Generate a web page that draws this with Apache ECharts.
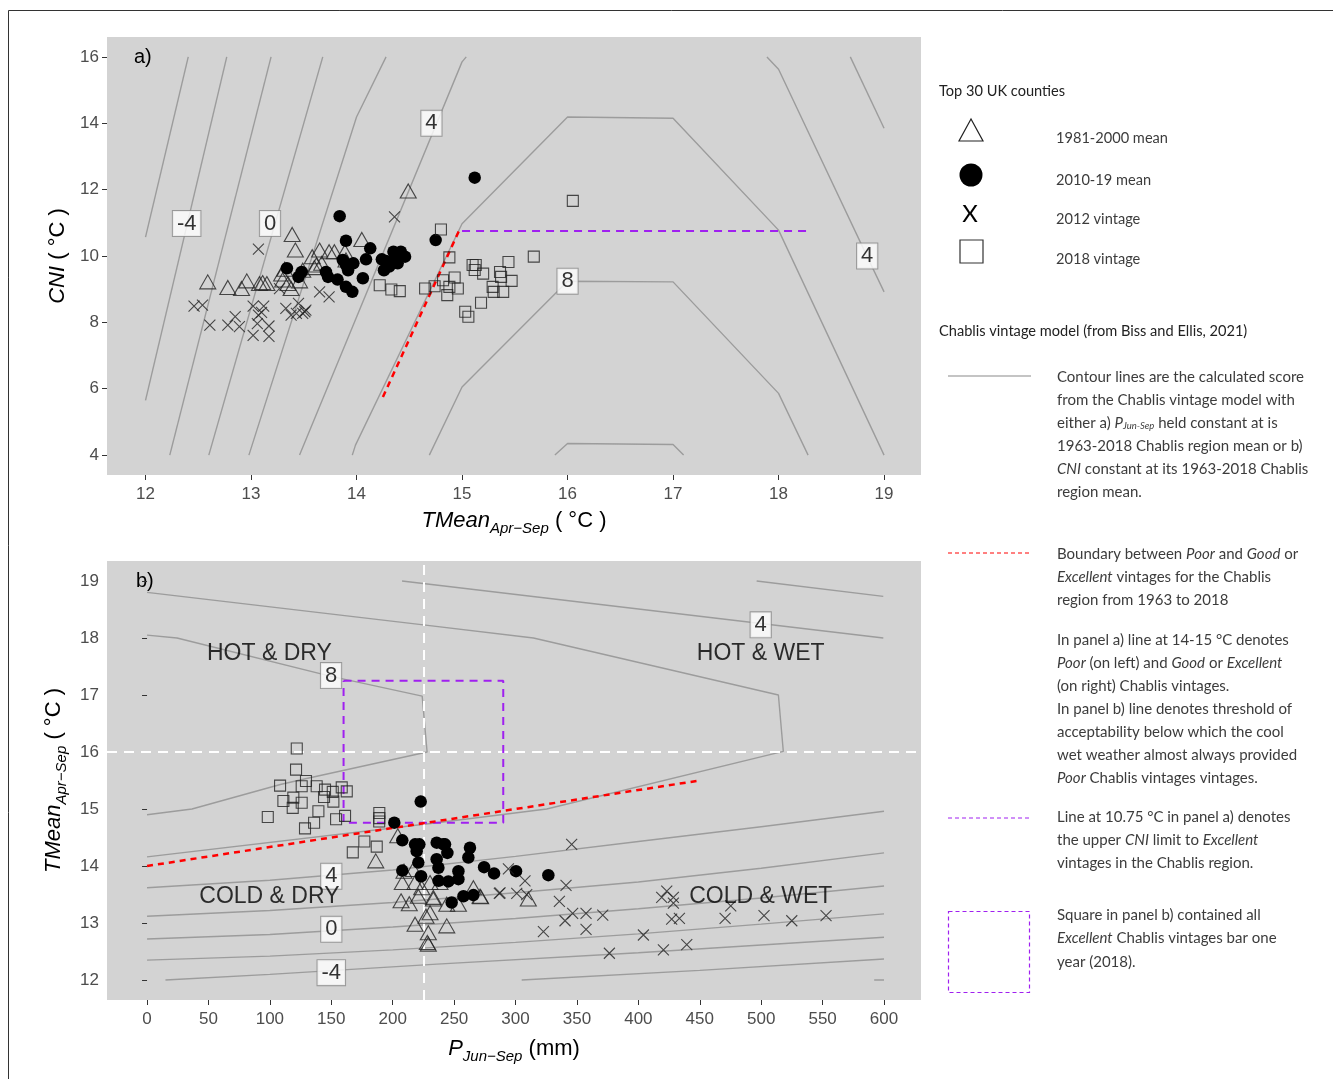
<!DOCTYPE html>
<html lang="en" style="height: 100%">
<head>
<meta charset="utf-8">
<title>Chablis vintage model - UK counties</title>
</head>
<body style="height: 100%; margin: 0; background: #fff">
<div id="container" style="height: 100%"></div>
<script type="text/javascript" src="https://cdn.jsdelivr.net/npm/echarts@6/dist/echarts.min.js"></script>
<script type="text/javascript">
var dom = document.getElementById('container');
var myChart = echarts.init(dom);

// ---------- tick labels ----------
var ticksAX = [12, 13, 14, 15, 16, 17, 18, 19];
var ticksAY = [4, 6, 8, 10, 12, 14, 16];
var ticksBX = [0, 50, 100, 150, 200, 250, 300, 350, 400, 450, 500, 550, 600];
var ticksBY = [12, 13, 14, 15, 16, 17, 18, 19];

// ---------- panel a) points: [TMean Apr-Sep, CNI] ----------
var triA = [[12.59,9.22],[12.78,9.05],[12.91,9.02],[12.96,9.25],[13.08,9.17],[13.15,9.17],[13.39,10.65],
  [13.42,10.18],[13.29,9.46],[13.30,9.28],[13.35,9.17],[13.38,9.02],[13.46,9.25],[13.49,9.57],[13.58,9.98],
  [13.65,10.18],[13.62,9.73],[13.67,9.78],[13.74,10.13],[13.79,10.13],[13.89,10.13],[13.90,9.88],[14.05,10.50],
  [14.49,11.96],[13.11,9.20],[13.32,9.60],[13.60,9.65]];
var circA = [[13.84,11.20],[13.90,10.46],[13.34,9.63],[13.45,9.37],[13.48,9.52],[13.71,9.52],[13.73,9.37],
  [13.82,9.29],[13.87,9.88],[13.90,9.73],[13.92,9.57],[13.90,9.07],[13.96,8.92],[13.97,9.78],[14.06,9.33],
  [14.09,9.90],[14.13,10.23],[14.24,9.90],[14.26,9.57],[14.31,9.68],[14.35,10.13],[14.39,9.78],[14.42,10.13],
  [14.46,9.98],[14.75,10.48],[15.12,12.36],[14.37,9.93],[14.28,9.85]];
var xA = [[12.46,8.49],[12.54,8.52],[12.61,7.92],[12.78,7.92],[12.85,8.17],[12.89,7.87],[13.07,10.21],
  [13.02,8.49],[13.07,8.22],[13.12,8.49],[13.02,7.61],[13.17,7.89],[13.17,7.58],[13.06,7.96],[13.33,8.42],
  [13.38,8.22],[13.45,8.57],[13.49,8.27],[13.51,8.32],[13.52,8.37],[13.65,8.92],[13.74,8.77],[14.36,11.18],
  [13.27,9.02],[13.43,8.27],[13.10,8.30]];
var sqA = [[14.22,9.12],[14.33,8.99],[14.41,8.94],[14.65,9.02],[14.74,9.09],[14.80,10.80],[14.88,9.96],
  [14.82,9.27],[14.86,8.82],[14.88,9.07],[14.93,9.35],[14.96,9.02],[15.03,8.32],[15.06,8.17],[15.10,9.73],
  [15.13,9.73],[15.12,9.58],[15.20,9.47],[15.18,8.59],[15.29,9.07],[15.30,8.92],[15.36,9.52],[15.37,9.37],
  [15.39,8.92],[15.44,9.82],[15.47,9.25],[15.68,9.98],[16.05,11.66]];

// ---------- panel a) contour lines of model score ----------
var contoursA = [
  [[12.405,16],[12.0,10.57]],
  [[12.77,16],[12.0,5.65]],
  [[13.19,16],[12.23,4]],
  [[13.68,16],[12.60,4]],
  [[14.28,16],[14.0,14.19],[12.98,4]],
  [[15.04,16],[15.0,15.85],[13.46,4]],
  [[13.96,4],[13.99,4.3],[15.0,10.97],[16.0,14.19],[17.0,14.15],[18.0,10.78],[19.0,4]],
  [[14.69,4],[15.0,6.05],[16.0,9.24],[17.0,9.22],[18.0,5.86],[18.28,4]],
  [[15.88,4],[16.0,4.35],[17.0,4.32],[17.1,4]],
  [[17.89,16],[18.0,15.63],[18.84,9.98],[19.0,8.92]],
  [[18.68,16],[19.0,13.85]]
];
var labelsA = [[12.39,10.98,'-4'],[13.18,10.98,'0'],[14.71,14.0,'4'],[16.0,9.24,'8'],[18.84,10.0,'4']];
var redA = [[14.25,5.75],[14.97,10.75]];
var purpleA = [[15.0,10.75],[18.27,10.75]];

// ---------- panel b) points: [P Jun-Sep, TMean Apr-Sep] ----------
var triB = [[204.1,14.53],[186.2,14.09],[209.2,13.91],[216.8,13.94],[207.8,13.71],[218.2,13.71],[230.4,13.71],
  [223.6,13.62],[238.5,13.71],[233.1,13.45],[206.8,13.39],[213.5,13.34],[220.9,13.47],[244.0,13.33],
  [253.5,13.33],[265.7,13.62],[271.1,13.47],[230.4,13.18],[227.1,13.12],[218.2,12.98],[244.0,12.95],
  [229.0,12.83],[229.0,12.63],[271.6,13.46],[310.4,13.42],[233.1,13.42],[228.2,12.66]];
var circB = [[222.8,15.13],[201.3,14.76],[207.8,14.45],[218.2,14.38],[221.7,14.38],[219.5,14.26],[235.8,14.41],
  [242.6,14.38],[244.5,14.23],[262.9,14.32],[261.6,14.15],[220.9,14.06],[235.8,14.12],[237.2,13.97],
  [207.8,13.92],[223.1,13.82],[253.5,13.91],[237.3,13.74],[245.3,13.73],[265.7,13.49],[257.6,13.47],
  [248.0,13.36],[274.4,13.98],[282.5,13.87],[300.4,13.91],[326.7,13.84],[253.5,13.77],[241.3,14.38]];
var xB = [[345.7,14.38],[294.2,13.95],[307.7,13.74],[287.4,13.53],[301.0,13.52],[309.1,13.50],[341.1,13.66],
  [335.7,13.38],[346.5,13.17],[340.3,13.04],[357.4,13.17],[357.4,12.89],[371.0,13.14],[322.7,12.85],
  [376.4,12.47],[404.1,12.79],[420.4,12.53],[439.4,12.62],[423.1,13.56],[419.0,13.45],[428.5,13.45],
  [428.5,13.35],[427.1,13.07],[433.4,13.08],[470.6,13.08],[475.2,13.30],[502.3,13.13],[524.9,13.04],
  [552.8,13.13],[286.8,13.52]];
var sqB = [[121.9,16.06],[121.3,15.69],[108.3,15.41],[129.4,15.49],[125.9,15.40],[138.1,15.40],[144.9,15.34],
  [151.2,15.30],[158.5,15.38],[162.6,15.31],[111.0,15.14],[119.1,15.20],[125.9,15.11],[118.6,15.02],
  [144.1,15.21],[151.7,15.13],[139.5,14.96],[98.3,14.86],[136.0,14.76],[128.6,14.66],[153.9,14.82],
  [161.2,14.88],[189.1,14.93],[189.1,14.84],[189.0,14.78],[176.9,14.43],[187.0,14.34],[167.5,14.24]];

// ---------- panel b) contour lines ----------
var contoursB = [
  [[496.3,19.0],[599.4,18.73]],
  [[207.6,19.0],[599.4,18.0]],
  [[0,18.8],[225,18.23],[314.6,18.0],[514,17.0],[518,16.01],[325.4,15.0],[236,14.76],[0,14.16]],
  [[0,18.05],[24.4,18.0],[149,17.33],[224,16.98],[228,16.0],[129,15.53],[108.5,15.43],[36.6,15.0],[0,14.9]],
  [[0,13.62],[100,13.75],[200,13.93],[300,14.17],[400,14.43],[500,14.69],[600,14.96]],
  [[0,13.12],[100,13.22],[200,13.36],[300,13.53],[400,13.72],[500,13.96],[600,14.23]],
  [[0,12.72],[100,12.8],[200,12.93],[300,13.08],[400,13.25],[500,13.44],[600,13.65]],
  [[0,12.35],[100,12.42],[200,12.53],[300,12.66],[400,12.81],[500,12.98],[600,13.16]],
  [[15,12.0],[100,12.1],[236,12.28],[400,12.48],[600,12.75]],
  [[305,12.0],[450,12.17],[600,12.37]],
  [[592,12.0],[600,12.0]]
];
var labelsB = [[149.8,17.34,'8'],[499.6,18.23,'4'],[150,13.82,'4'],[150,12.89,'0'],[150,12.13,'-4']];
var regionsB = [[99.6,17.72,'HOT & DRY'],[499.6,17.72,'HOT & WET'],[99.6,13.47,'COLD & DRY'],[499.6,13.47,'COLD & WET']];
var redB = [[0,14.0],[450,15.5]];
var purpleB = [[160,17.25],[290,17.25],[290,14.76],[160,14.76],[160,17.25]];
var meanP = 225.5;
var meanT = 16.0;

var tickColor = '#4d4d4d';
var lineGray = '#9c9c9c';
var xPath = 'path://M0,0L10,10M10,0L0,10';

function axisCommon(ticks, margin) {
  return {
    axisLine: {show: false},
    splitLine: {show: false},
    axisTick: {show: true, length: 5, lineStyle: {color: '#333', width: 1}, customValues: ticks},
    axisLabel: {color: tickColor, fontSize: 17, fontFamily: 'Liberation Sans', customValues: ticks, margin: margin}
  };
}

var nameRich = {
  i: {fontStyle: 'italic', fontSize: 22, fontFamily: 'Liberation Sans', color: '#000', lineHeight: 30, verticalAlign: 'middle'},
  s: {fontStyle: 'italic', fontSize: 15, fontFamily: 'Liberation Sans', color: '#000', lineHeight: 18, verticalAlign: 'bottom'},
  n: {fontSize: 22, fontFamily: 'Liberation Sans', color: '#000', lineHeight: 30, verticalAlign: 'middle'}
};

var xAxes = [
  Object.assign({type: 'value', gridIndex: 0, min: 11.635, max: 19.35,
    name: '{i|TMean}{s|Apr\u2212Sep}{n| ( \u00B0C )}', nameLocation: 'middle', nameGap: 31,
    nameTextStyle: {rich: nameRich}}, axisCommon(ticksAX, 11)),
  Object.assign({type: 'value', gridIndex: 1, min: -32.6, max: 630.1,
    name: '{i|P}{s|Jun\u2212Sep}{n| (mm)}', nameLocation: 'middle', nameGap: 34,
    nameTextStyle: {rich: nameRich}}, axisCommon(ticksBX, 11))
];
var yAxes = [
  Object.assign({type: 'value', gridIndex: 0, min: 3.4, max: 16.6,
    name: '{i|CNI}{n| ( \u00B0C )}', nameLocation: 'middle', nameGap: 34,
    nameTextStyle: {rich: nameRich}}, axisCommon(ticksAY, 8)),
  Object.assign({type: 'value', gridIndex: 1, min: 11.65, max: 19.35,
    name: '{i|TMean}{s|Apr\u2212Sep}{n| ( \u00B0C )}', nameLocation: 'middle', nameGap: 32,
    nameTextStyle: {rich: nameRich}}, axisCommon(ticksBY, 8))
];

var series = [];
function addLines(list, idx) {
  list.forEach(function (pts) {
    series.push({type: 'line', xAxisIndex: idx, yAxisIndex: idx, data: pts, showSymbol: false, silent: true,
      lineStyle: {color: lineGray, width: 1.4}, z: 1});
  });
}
addLines(contoursA, 0);
addLines(contoursB, 1);

function dashed(pts, idx, color, width, dash, z) {
  series.push({type: 'line', xAxisIndex: idx, yAxisIndex: idx, data: pts, showSymbol: false, silent: true,
    lineStyle: {color: color, width: width, type: dash}, z: z});
}
dashed(redA, 0, '#ff0000', 2.5, [6, 5], 3);
dashed(purpleA, 0, '#a020f0', 2, [8, 6], 3);
dashed([[meanP, 11.65], [meanP, 19.35]], 1, '#ffffff', 2, [10, 7], 2);
dashed([[-32.6, meanT], [630.1, meanT]], 1, '#ffffff', 2, [10, 7], 2);
dashed(purpleB, 1, '#a020f0', 2, [8, 6], 3);
dashed(redB, 1, '#ff0000', 2.5, [6, 5], 3);

function addPoints(idx, tri, circ, xs, sq) {
  series.push({type: 'scatter', xAxisIndex: idx, yAxisIndex: idx, data: tri, symbol: 'triangle', symbolSize: [16, 14],
    itemStyle: {color: 'transparent', borderColor: '#222', borderWidth: 1.1}, z: 4});
  series.push({type: 'scatter', xAxisIndex: idx, yAxisIndex: idx, data: circ, symbol: 'circle', symbolSize: 12.5,
    itemStyle: {color: '#000', borderColor: '#000', borderWidth: 0, opacity: 1}, z: 4});
  series.push({type: 'scatter', xAxisIndex: idx, yAxisIndex: idx, data: xs, symbol: xPath, symbolSize: 11,
    itemStyle: {color: 'transparent', borderColor: '#222', borderWidth: 1.1}, z: 4});
  series.push({type: 'scatter', xAxisIndex: idx, yAxisIndex: idx, data: sq, symbol: 'rect', symbolSize: 11,
    itemStyle: {color: 'transparent', borderColor: '#222', borderWidth: 1.1}, z: 4});
}
addPoints(0, triA, circA, xA, sqA);
addPoints(1, triB, circB, xB, sqB);

function addLabels(list, idx, boxed, size) {
  series.push({type: 'scatter', xAxisIndex: idx, yAxisIndex: idx, data: list, symbolSize: 0.1, silent: true,
    itemStyle: {color: 'transparent'}, z: 6,
    label: {show: true, position: 'inside', formatter: function (p) { return p.value[2]; },
      fontSize: size, fontFamily: 'Liberation Sans', color: '#000',
      backgroundColor: boxed ? '#fff' : 'transparent', borderColor: boxed ? '#8a8a8a' : 'transparent',
      borderWidth: boxed ? 1 : 0, padding: boxed ? [2, 4, 1, 4] : 0}});
}
addLabels(labelsA, 0, true, 22);
addLabels(labelsB, 1, true, 22);
addLabels(regionsB, 1, false, 23);

// ---------- right side legend / notes ----------
var noteFont = 'Lato';
var noteColor = '#3c3c3c';
var noteSize = 15;
var noteRich = {
  it: {fontStyle: 'italic', fontSize: noteSize, fontFamily: noteFont, color: noteColor},
  sb: {fontStyle: 'italic', fontSize: 9.5, fontFamily: noteFont, color: noteColor, verticalAlign: 'bottom', lineHeight: 12}
};
var noteLines = [
  [377, 'Contour lines are the calculated score'],
  [400, 'from the Chablis vintage model with'],
  [423, 'either a) {it|P}{sb|Jun-Sep} held constant at is'],
  [446, '1963-2018 Chablis region mean or b)'],
  [469, '{it|CNI} constant at its 1963-2018 Chablis'],
  [492, 'region mean.'],
  [554, 'Boundary between {it|Poor} and {it|Good} or'],
  [577, '{it|Excellent} vintages for the Chablis'],
  [600, 'region from 1963 to 2018'],
  [640, 'In panel a) line at 14-15 \u00B0C denotes'],
  [663, '{it|Poor} (on left) and {it|Good} or {it|Excellent}'],
  [686, '(on right) Chablis vintages.'],
  [709, 'In panel b) line denotes threshold of'],
  [732, 'acceptability below which the cool'],
  [755, 'wet weather almost always provided'],
  [778, '{it|Poor} Chablis vintages vintages.'],
  [817, 'Line at 10.75 \u00B0C in panel a) denotes'],
  [840, 'the upper {it|CNI} limit to {it|Excellent}'],
  [863, 'vintages in the Chablis region.'],
  [915, 'Square in panel b) contained all'],
  [938, '{it|Excellent} Chablis vintages bar one'],
  [962, 'year (2018).']
];
var legendItems = [
  [138, '1981-2000 mean'],
  [180, '2010-19 mean'],
  [219, '2012 vintage'],
  [259, '2018 vintage']
];

var graphics = [
  {type: 'rect', shape: {x: 8.5, y: 10.5, width: 1340, height: 1090}, style: {fill: 'none', stroke: '#333', lineWidth: 1}, silent: true},
  {type: 'text', x: 134, y: 47, style: {text: 'a)', fontSize: 20, fontFamily: 'Liberation Sans', fill: '#000'}},
  {type: 'text', x: 136, y: 571, style: {text: 'b)', fontSize: 20, fontFamily: 'Liberation Sans', fill: '#000'}},
  {type: 'text', x: 939, y: 91, style: {text: 'Top 30 UK counties', fontSize: 14.6, fontFamily: noteFont, fill: '#222', verticalAlign: 'middle'}},
  {type: 'polygon', shape: {points: [[971, 119], [959, 141], [983, 141]]}, style: {fill: 'none', stroke: '#222', lineWidth: 1.2}},
  {type: 'circle', shape: {cx: 971, cy: 175, r: 11.5}, style: {fill: '#000'}},
  {type: 'text', x: 970, y: 214, style: {text: 'X', fontSize: 24, fontFamily: 'Lato', fill: '#000', align: 'center', verticalAlign: 'middle'}},
  {type: 'rect', shape: {x: 960, y: 240, width: 23, height: 23}, style: {fill: 'none', stroke: '#333', lineWidth: 1.2}},
  {type: 'text', x: 939, y: 331, style: {text: 'Chablis vintage model (from Biss and Ellis, 2021)', fontSize: 14.6, fontFamily: noteFont, fill: '#222', verticalAlign: 'middle'}},
  {type: 'line', shape: {x1: 948, y1: 376, x2: 1031, y2: 376}, style: {stroke: '#8a8a8a', lineWidth: 1.2}},
  {type: 'line', shape: {x1: 948, y1: 553, x2: 1031, y2: 553}, style: {stroke: '#ff0000', lineWidth: 1, lineDash: [4, 3]}},
  {type: 'line', shape: {x1: 948, y1: 818, x2: 1031, y2: 818}, style: {stroke: '#a020f0', lineWidth: 1, lineDash: [4, 3]}},
  {type: 'rect', shape: {x: 948.5, y: 911.5, width: 81, height: 81}, style: {fill: 'none', stroke: '#a020f0', lineWidth: 1.2, lineDash: [4, 3]}}
];
legendItems.forEach(function (it) {
  graphics.push({type: 'text', x: 1056, y: it[0], style: {text: it[1], fontSize: 14.6, fontFamily: noteFont, fill: noteColor, verticalAlign: 'middle'}});
});
noteLines.forEach(function (ln) {
  graphics.push({type: 'text', x: 1057, y: ln[0], style: {text: ln[1], rich: noteRich, fontSize: noteSize, fontFamily: noteFont, fill: noteColor, verticalAlign: 'middle'}});
});

var option = {
  backgroundColor: '#ffffff',
  animation: false,
  grid: [
    {left: 107, top: 37, width: 814, height: 438, show: true, backgroundColor: '#d3d3d3', borderWidth: 0},
    {left: 107, top: 561, width: 814, height: 439, show: true, backgroundColor: '#d3d3d3', borderWidth: 0}
  ],
  xAxis: xAxes,
  yAxis: yAxes,
  series: series,
  graphic: graphics
};

myChart.setOption(option);
window.addEventListener('resize', myChart.resize);
</script>
</body>
</html>
